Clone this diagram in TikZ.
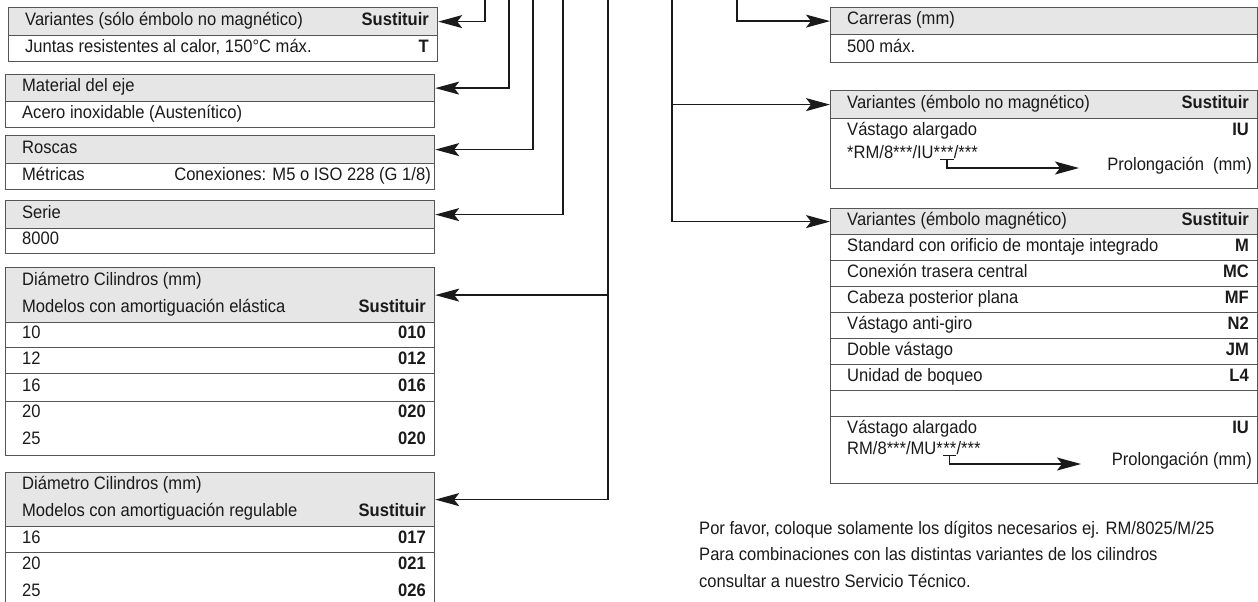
\documentclass[tikz,border=0pt]{standalone}
\usepackage{fontspec}
\setmainfont{Liberation Sans}[FakeStretch=0.92]
\usepackage{xcolor}
\usepackage{tikz}
\usetikzlibrary{arrows.meta}
\pgfdeclarelayer{nodelayer}
\pgfdeclarelayer{edgelayer}
\pgfsetlayers{nodelayer,edgelayer,main}
\definecolor{rulegray}{HTML}{555555}
\definecolor{headgray}{HTML}{E6E6E6}
\definecolor{ink}{HTML}{1A1A1A}
\newcommand{\rowfont}{\fontsize{18}{20}\selectfont}
\tikzset{
  lcell/.style={draw=rulegray, line width=1.2pt, anchor=north west, inner sep=0pt, minimum width=429pt},
  rcell/.style={lcell, minimum width=427pt},
  head/.style={fill=headgray},
  txt/.style={anchor=mid west, inner sep=0pt, text=ink, font=\rowfont},
  sub/.style={txt, anchor=mid east, font=\rowfont\bfseries},
  feed/.style={draw=ink, line width=1.4pt, -{Stealth[length=24pt, width=13pt, inset=5pt]}},
  uline/.style={draw=ink, line width=1pt},
}

\begin{document}
\begin{tikzpicture}[x=1pt, y=-1pt]
  \useasboundingbox (0,0) rectangle (1258,602);
  \begin{pgfonlayer}{nodelayer}
    % left column
    \node [lcell, head, minimum height=28pt] (0) at (8, 7) {};
    \node [lcell, minimum height=26pt] (1) at (8, 35) {};
    \node [txt] (2) at (25, 22.5) {Variantes (sólo émbolo no magnético)};
    \node [sub] (3) at (429, 22.5) {Sustituir};
    \node [txt] (4) at (25, 49.5) {Juntas resistentes al calor, 150°C máx.};
    \node [sub] (5) at (429, 49.5) {T};

    \node [lcell, head, minimum height=27pt] (6) at (5, 74) {};
    \node [lcell, minimum height=26pt] (7) at (5, 101) {};
    \node [txt] (8) at (22, 89) {Material del eje};
    \node [txt] (9) at (22, 115.5) {Acero inoxidable (Austenítico)};

    \node [lcell, head, minimum height=28pt] (10) at (5, 135) {};
    \node [lcell, minimum height=26pt] (11) at (5, 163) {};
    \node [txt] (12) at (22, 150.5) {Roscas};
    \node [txt] (13) at (22, 177.5) {Métricas};
    \node [txt, anchor=mid east] (14) at (431, 177.5) {Conexiones: M5 o ISO 228 (G 1/8)};

    \node [lcell, head, minimum height=28pt] (15) at (5, 200) {};
    \node [lcell, minimum height=25pt] (16) at (5, 228) {};
    \node [txt] (17) at (22, 215.5) {Serie};
    \node [txt] (18) at (22, 242) {8000};

    \node [lcell, head, minimum height=55pt] (19) at (5, 267) {};
    \node [lcell, minimum height=25pt] (20) at (5, 322) {};
    \node [lcell, minimum height=26pt] (21) at (5, 347) {};
    \node [lcell, minimum height=28pt] (22) at (5, 373) {};
    \node [lcell, minimum height=54pt] (23) at (5, 401) {};
    \node [txt] (24) at (22, 282.5) {Diámetro Cilindros (mm)};
    \node [txt] (25) at (22, 309.5) {Modelos con amortiguación elástica};
    \node [sub] (26) at (426, 309.5) {Sustituir};
    \node [txt] (27) at (22, 336) {10};
    \node [sub] (28) at (426, 336) {010};
    \node [txt] (29) at (22, 361.5) {12};
    \node [sub] (30) at (426, 361.5) {012};
    \node [txt] (31) at (22, 388.5) {16};
    \node [sub] (32) at (426, 388.5) {016};
    \node [txt] (33) at (22, 415) {20};
    \node [sub] (34) at (426, 415) {020};
    \node [txt] (35) at (22, 442) {25};
    \node [sub] (36) at (426, 442) {020};

    \node [lcell, head, minimum height=54pt] (37) at (5, 472) {};
    \node [lcell, minimum height=26pt] (38) at (5, 526) {};
    \node [lcell, minimum height=60pt] (39) at (5, 552) {};
    \node [txt] (40) at (22, 487) {Diámetro Cilindros (mm)};
    \node [txt] (41) at (22, 514) {Modelos con amortiguación regulable};
    \node [sub] (42) at (426, 514) {Sustituir};
    \node [txt] (43) at (22, 540.5) {16};
    \node [sub] (44) at (426, 540.5) {017};
    \node [txt] (45) at (22, 567) {20};
    \node [sub] (46) at (426, 567) {021};
    \node [txt] (47) at (22, 593.5) {25};
    \node [sub] (48) at (426, 593.5) {026};

    % right column
    \node [rcell, head, minimum height=27pt] (50) at (830, 7) {};
    \node [rcell, minimum height=28pt] (51) at (830, 34) {};
    \node [txt] (52) at (847, 22) {Carreras (mm)};
    \node [txt] (53) at (847, 49.5) {500 máx.};

    \node [rcell, head, minimum height=28pt] (54) at (830, 90) {};
    \node [rcell, minimum height=70pt] (55) at (830, 118) {};
    \node [txt] (56) at (847, 105.5) {Variantes (émbolo no magnético)};
    \node [sub] (57) at (1249, 105.5) {Sustituir};
    \node [txt] (58) at (847, 133) {Vástago alargado};
    \node [sub] (59) at (1249, 133) {IU};
    \node [txt] (60) at (847, 156) {*RM/8***/IU*};
    \node [txt, anchor=base west] (61) at (60.base east) {**};
    \node [txt, anchor=base west] (62) at (61.base east) {/***};
    \node [txt, anchor=mid east] (63) at (1252, 168) {Prolongación~ (mm)};

    \node [rcell, head, minimum height=26pt] (64) at (830, 208) {};
    \node [rcell, minimum height=26pt] (65) at (830, 234) {};
    \node [rcell, minimum height=26pt] (66) at (830, 260) {};
    \node [rcell, minimum height=26pt] (67) at (830, 286) {};
    \node [rcell, minimum height=26pt] (68) at (830, 312) {};
    \node [rcell, minimum height=26pt] (69) at (830, 338) {};
    \node [rcell, minimum height=26pt] (70) at (830, 364) {};
    \node [rcell, minimum height=26pt] (71) at (830, 390) {};
    \node [rcell, minimum height=67pt] (72) at (830, 416) {};
    \node [txt] (73) at (847, 222.5) {Variantes (émbolo magnético)};
    \node [sub] (74) at (1249, 222.5) {Sustituir};
    \node [txt] (75) at (847, 248.5) {Standard con orificio de montaje integrado};
    \node [sub] (76) at (1249, 248.5) {M};
    \node [txt] (77) at (847, 274.5) {Conexión trasera central};
    \node [sub] (78) at (1249, 274.5) {MC};
    \node [txt] (79) at (847, 300.5) {Cabeza posterior plana};
    \node [sub] (80) at (1249, 300.5) {MF};
    \node [txt] (81) at (847, 326.5) {Vástago anti-giro};
    \node [sub] (82) at (1249, 326.5) {N2};
    \node [txt] (83) at (847, 352.5) {Doble vástago};
    \node [sub] (84) at (1249, 352.5) {JM};
    \node [txt] (85) at (847, 378.5) {Unidad de boqueo};
    \node [sub] (86) at (1249, 378.5) {L4};
    \node [txt] (87) at (847, 431) {Vástago alargado};
    \node [sub] (88) at (1249, 431) {IU};
    \node [txt] (89) at (847, 452) {RM/8***/MU*};
    \node [txt, anchor=base west] (90) at (89.base east) {**};
    \node [txt, anchor=base west] (91) at (90.base east) {/***};
    \node [txt, anchor=mid east] (92) at (1252, 463) {Prolongación (mm)};

    % note
    \node [txt] (93) at (699, 532) {Por favor, coloque solamente los dígitos necesarios ej. RM/8025/M/25};
    \node [txt] (94) at (699, 558) {Para combinaciones con las distintas variantes de los cilindros};
    \node [txt] (95) at (699, 585) {consultar a nuestro Servicio Técnico.};
  \end{pgfonlayer}
  \begin{pgfonlayer}{edgelayer}
    \coordinate (100) at (485, 0);
    \coordinate (101) at (509, 0);
    \coordinate (102) at (533, 0);
    \coordinate (103) at (563, 0);
    \coordinate (104) at (608, 0);
    \coordinate (105) at (672, 0);
    \coordinate (106) at (737, 0);
    \coordinate (107) at (1079, 168);
    \coordinate (108) at (1081, 464);
    \draw [feed] (100) |- (0.east);
    \draw [feed] (101) |- (6.east);
    \draw [feed] (102) |- (10.east);
    \draw [feed] (103) |- (15.east);
    \draw [feed] (104) |- (37.east);
    \draw [feed] (104 |- 19.east) -- (19.east);
    \draw [feed] (106) |- (50.west);
    \draw [feed] (105) |- (64.west);
    \draw [feed] (105 |- 54.west) -- (54.west);
    \draw [uline] ([yshift=-0.5pt]61.base west) -- ([yshift=-0.5pt]61.base east);
    \draw [feed] ([yshift=-0.5pt]61.base) |- (107);
    \draw [uline] ([yshift=-0.5pt]90.base west) -- ([yshift=-0.5pt]90.base east);
    \draw [feed] ([yshift=-0.5pt]90.base) |- (108);
  \end{pgfonlayer}
\end{tikzpicture}
\end{document}
